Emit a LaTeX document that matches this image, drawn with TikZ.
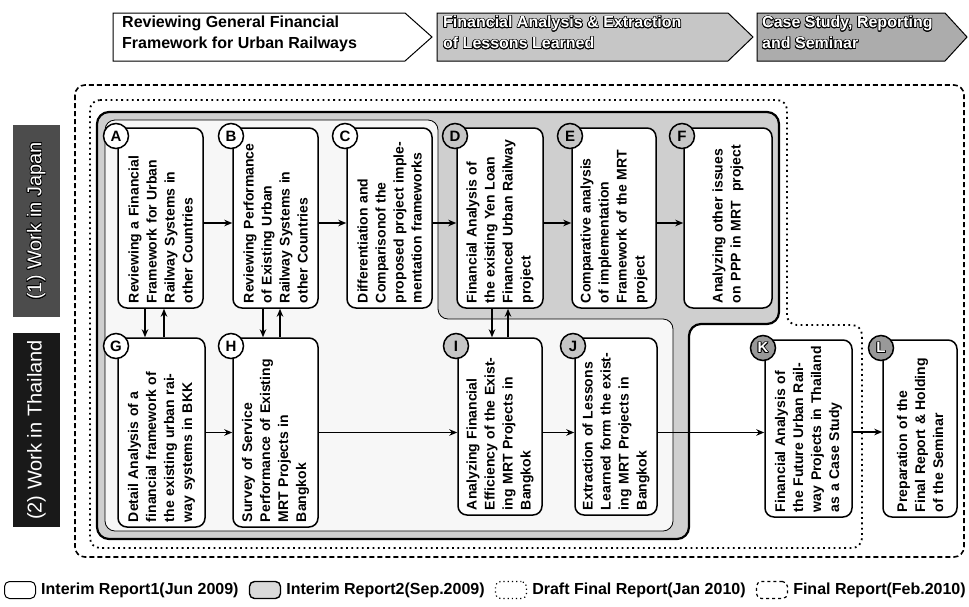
\documentclass[tikz,border=0pt]{standalone}
\usepackage{fontspec}
\setmainfont{Liberation Sans}
\usepackage{contour}
\contourlength{0.7pt}
\usetikzlibrary{arrows.meta,positioning}
\tikzset{
 task/.style={draw, line width=1.5pt, rounded corners=9pt, fill=white, rotate=90, align=left, font=\bfseries\fontsize{14}{18}\selectfont, inner sep=2pt},
 circW/.style={circle, draw, line width=1.5pt, fill=white, minimum size=25pt, inner sep=0pt, font=\bfseries\fontsize{15}{15}\selectfont},
 circG/.style={circW, fill=gray!45},
 circK/.style={circW, fill=gray!80, text=white},
 arr/.style={line width=1.4pt, -{Stealth[length=8pt,width=6.5pt]}},
 hdr/.style={draw, line width=1pt},
 hdrtext/.style={anchor=north west, align=left, inner sep=0pt, font=\bfseries\fontsize{16}{21}\selectfont},
 lbl/.style={rotate=90, minimum height=47pt, font=\fontsize{20}{20}\selectfont, text=white},
 finalr/.style={line width=1.6pt, dash pattern=on 5pt off 3pt, rounded corners=10pt},
 draftr/.style={line width=1.8pt, dash pattern=on 1.8pt off 3.5pt, rounded corners=10pt},
 int2r/.style={draw, line width=2.2pt, fill=gray!38, rounded corners=12pt},
 int1r/.style={draw, line width=0.8pt, fill=gray!6, rounded corners=10pt},
 legtext/.style={font=\bfseries\fontsize{16}{16}\selectfont, inner sep=1pt},
 legicon/.style={draw, rounded corners=5pt, minimum width=31pt, minimum height=17pt, inner sep=0pt},
}
\newcommand{\taskbox}[6]{%
 \pgfmathsetmacro{\tbW}{#5-#3}\pgfmathsetmacro{\tbH}{#4-#2}\pgfmathsetmacro{\tbT}{#5-#3-10}%
 \node[task, minimum width=\tbW pt, minimum height=\tbH pt, text width=\tbT pt] (#1) at ({(#2+#4)/2},{(#3+#5)/2}) {#6};}
\begin{document}
\begin{tikzpicture}[x=1pt,y=-1pt]
\useasboundingbox (0,0) rectangle (969,606);
% header
\draw[hdr, fill=white] (113,13) -- (405,13) -- (432,37) -- (405,61) -- (113,61) -- cycle;
\node[hdrtext] (h1) at (122,16) {Reviewing General Financial\\Framework for Urban Railways};
\draw[hdr, fill=gray!45] (437,13) -- (728,13) -- (753,37) -- (728,61) -- (437,61) -- cycle;
\node[hdrtext, text=white] (h2) at (443,16) {\contour{black}{Financial Analysis \& Extraction}\\\contour{black}{of Lessons Learned}};
\draw[hdr, fill=gray!65] (757,13) -- (945,13) -- (967,37) -- (945,61) -- (757,61) -- cycle;
\node[hdrtext, text=white] (h3) at (762,16) {\contour{black}{Case Study, Reporting}\\\contour{black}{and Seminar}};
% left labels
\node[lbl, fill=black!70, minimum width=192pt] (jp) at (36.5,221) {\contour{black}{(1) Work in Japan}};
\node[lbl, fill=black!90, minimum width=194pt] (th) at (36.5,430) {(2) Work in Thailand};
% regions
\draw[finalr] (75,85) rectangle (964,557);
\draw[draftr] (90,100) -- (787,100) -- (787,325) -- (862,325) -- (862,548) -- (90,548) -- cycle;
\draw[int2r] (97,112) -- (779,112) -- (779,324) -- (689,324) -- (689,539) -- (97,539) -- cycle;
\draw[int1r] (105,120) -- (438,120) -- (438,319) -- (673,319) -- (673,531) -- (105,531) -- cycle;
% tasks
\taskbox{A}{118}{128}{203}{308}{Reviewing a Financial\\Framework for Urban\\Railway Systems in\\other Countries}
\taskbox{B}{233}{128}{318}{308}{Reviewing Performance\\of Existing Urban\\Railway Systems in\\other Countries}
\taskbox{C}{347}{128}{432}{308}{Differentiation and\\Comparisonof the\\proposed project imple-\\mentation frameworks}
\taskbox{D}{457}{128}{543}{308}{Financial Analysis of\\the existing Yen Loan\\Financed Urban Railway\\project}
\taskbox{E}{572}{128}{656}{308}{Comparative analysis\\of implementation\\Framework of the MRT\\project}
\taskbox{F}{684}{128}{772}{308}{Analyzing other issues\\on PPP in MRT\ \ project}
\taskbox{G}{118}{338}{205}{527}{Detail Analysis of a\\financial framework of\\the existing urban rai-\\way systems in BKK}
\taskbox{H}{233}{338}{318}{527}{Survey of Service\\Performance of Existing\\MRT Projects in\\Bangkok}
\taskbox{I}{458}{338}{542}{515}{Analyzing Financial\\Efficiency of the Exist-\\ing MRT Projects in\\Bangkok}
\taskbox{J}{575}{338}{657}{515}{Extraction of Lessons\\Learned form the exist-\\ing MRT Projects in\\Bangkok}
\taskbox{K}{765}{340}{852}{517}{Financial Analysis of\\the Future Urban Rail-\\way Projects in Thailand\\as a Case Study}
\taskbox{L}{883}{340}{957}{517}{Preparation of the\\Final Report \& Holding\\of the Seminar}
% circles
\node[circW] (cA) at (116,136) {A};
\node[circW] (cB) at (231,136) {B};
\node[circW] (cC) at (345,136) {C};
\node[circG] (cD) at (455,136) {D};
\node[circG] (cE) at (570,136) {E};
\node[circG] (cF) at (682,136) {F};
\node[circW] (cG) at (116,346) {G};
\node[circW] (cH) at (231,346) {H};
\node[circG] (cI) at (456,346) {I};
\node[circG] (cJ) at (573,346) {J};
\node[circK] (cK) at (763,348) {\contour{black}{K}};
\node[circK] (cL) at (881,348) {\contour{black}{L}};
% arrows top row
\draw[arr] ([yshift=-5pt]A.south) -- ([yshift=-5pt]A.south -| B.north);
\draw[arr] ([yshift=-5pt]B.south) -- ([yshift=-5pt]B.south -| C.north);
\draw[arr] ([yshift=-5pt]C.south) -- ([yshift=-5pt]C.south -| D.north);
\draw[arr] ([yshift=-5pt]D.south) -- ([yshift=-5pt]D.south -| E.north);
\draw[arr] ([yshift=-5pt]E.south) -- ([yshift=-5pt]E.south -| F.north);
% vertical arrows
\draw[arr] ([xshift=-15.5pt]A.west) -- ([xshift=-15.5pt]A.west |- G.east);
\draw[arr] ([xshift=2.5pt]G.east) -- ([xshift=2.5pt]G.east |- A.west);
\draw[arr] ([xshift=-12.5pt]B.west) -- ([xshift=-12.5pt]B.west |- H.east);
\draw[arr] ([xshift=4.5pt]H.east) -- ([xshift=4.5pt]H.east |- B.west);
\draw[arr] ([xshift=-8pt]D.west) -- ([xshift=-8pt]D.west |- I.east);
\draw[arr] ([xshift=8pt]I.east) -- ([xshift=8pt]I.east |- D.west);
% arrows bottom row
\draw[arr] (G.south) -- (G.south -| H.north);
\draw[arr] (H.south) -- (H.south -| I.north);
\draw[arr] ([yshift=-6pt]I.south) -- ([yshift=-6pt]I.south -| J.north);
\draw[arr] ([yshift=-6pt]J.south) -- ([yshift=-6pt]J.south -| K.north);
\draw[arr] ([yshift=-3.5pt]K.south) -- ([yshift=-3.5pt]K.south -| L.north);
% legend
\node[legicon, line width=1pt, fill=white] (li1) at (20,590) {};
\node[legtext, right=4pt of li1] (lt1) {Interim Report1(Jun 2009)};
\node[legicon, line width=1.4pt, fill=gray!30, right=9pt of lt1] (li2) {};
\node[legtext, right=4pt of li2] (lt2) {Interim Report2(Sep.2009)};
\node[legicon, line width=1.2pt, dash pattern=on 1.2pt off 3pt, right=9pt of lt2] (li3) {};
\node[legtext, right=4pt of li3] (lt3) {Draft Final Report(Jan 2010)};
\node[legicon, line width=1.2pt, dash pattern=on 3pt off 3pt, right=9pt of lt3] (li4) {};
\node[legtext, right=4pt of li4] (lt4) {Final Report(Feb.2010)};
\end{tikzpicture}
\end{document}
